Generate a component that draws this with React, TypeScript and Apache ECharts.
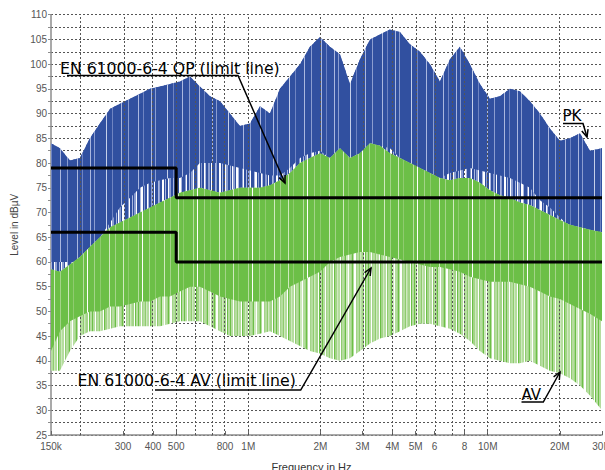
import React, { useEffect, useRef } from 'react';
import * as echarts from 'echarts';

// Frequencies (MHz) at which the traces' envelopes were read
const freqMHz = [0.15, 0.1635, 0.18, 0.198, 0.218, 0.24, 0.265, 0.291, 0.321, 0.353, 0.389, 0.428, 0.471, 0.518, 0.571, 0.628, 0.692, 0.762, 0.838, 0.923, 1.016, 1.119, 1.232, 1.356, 1.493, 1.644, 1.809, 1.992, 2.193, 2.415, 2.658, 2.927, 3.222, 3.547, 3.905, 4.299, 4.733, 5.21, 5.736, 6.315, 6.952, 7.653, 8.426, 9.274, 10.21, 11.24, 12.38, 13.62, 15.0, 16.51, 18.18, 20.02, 22.04, 24.27, 26.71, 30.0];

// PK trace (dBµV): upper envelope, bottom of solid body, bottom of light streaks
const pkTop = [84, 83, 80.5, 81, 85, 88, 91, 92, 93, 94, 95, 95.5, 96, 96.5, 97.5, 95.5, 93.5, 92.5, 90, 87.5, 88, 91.5, 90, 95, 97.5, 100, 103.5, 105.5, 103.5, 102, 96, 101, 105, 106, 107, 106.5, 104, 102.5, 100, 96.5, 101, 103.5, 100, 96, 93, 93.5, 95, 94.5, 92.5, 90, 87, 84.5, 85, 86, 82.5, 83];
const pkBody = [60, 60, 60, 60, 61, 65, 68, 71, 73, 75, 76, 76.5, 77, 77, 78, 80, 80, 80, 79.5, 79, 78.5, 78, 77.5, 77.5, 79, 81, 82, 82.5, 81, 80, 78.5, 80, 83, 83.5, 83, 81, 79, 78, 77, 77, 78, 78.5, 79, 78.5, 78, 77.5, 77, 76, 75, 72.5, 71, 69, 67, 66, 65, 64];
const pkFloor = [55, 55, 56, 57, 59, 63, 66, 67, 68, 69, 70, 71, 72, 73, 73.5, 74, 73.5, 73, 73.5, 74, 74, 74, 74.5, 75.5, 77, 79, 80, 81, 79, 78.5, 77, 79, 80, 80, 80, 79, 76, 76, 75, 74, 74, 75, 75, 74, 73, 72, 71, 70, 69, 68, 66, 64, 63, 62.5, 62, 62];

// AV trace (dBµV)
const avTop = [58.5, 58, 59.5, 61, 63, 65, 67, 68, 69, 70, 71, 72, 73, 74, 74.5, 75, 74.5, 74, 74.5, 75, 75, 75, 75.5, 76.5, 78, 80, 81, 82, 81, 83, 81, 82, 84, 83.5, 82, 81, 80, 79, 78, 77, 76.5, 77, 77, 76, 74.5, 73.5, 73, 72, 71.5, 70.5, 69.5, 68.5, 67.5, 67, 66.5, 66];
const avBody = [42, 46, 48, 49, 50, 50, 51, 51, 51.5, 52, 52, 53, 53, 54, 55, 55, 54, 53, 52.5, 52, 52, 52, 52, 53, 55, 56, 57, 58, 60, 61, 61.5, 62, 62, 61.5, 61, 60.5, 60, 59.5, 59, 59, 58.5, 58, 57, 56.5, 56, 56, 56, 55.5, 55, 54, 53, 52.5, 51.5, 50.5, 49.5, 48];
const avFloor = [38, 38, 42, 45, 46, 46, 46.5, 47, 47, 47, 47, 47, 47.5, 48, 48, 48, 47, 46, 45, 45, 45, 45.5, 46, 45, 44, 43, 42, 41.5, 40.5, 40, 40.5, 42, 43.5, 44.5, 45, 46, 47, 47.5, 47.5, 47, 46.5, 45.5, 44, 42, 40.5, 40, 39.5, 39.5, 40, 39, 38, 37.5, 36.5, 35, 33, 30];

// Limit lines
const limitFreqMHz = [0.15, 0.5, 0.5, 30];
const qpLimit = [79, 79, 73, 73];
const avLimit = [66, 66, 60, 60];

// Axis ticks
const xTickMHz = [0.15, 0.3, 0.4, 0.5, 0.8, 1, 2, 3, 4, 5, 6, 8, 10, 20, 30];
const xTickLabels = ['150k', '300', '400', '500', '800', '1M', '2M', '3M', '4M', '5M', '6', '8', '10M', '20M', '30M'];
const xGridMHz = [0.2, 0.3, 0.4, 0.5, 0.6, 0.7, 0.8, 1, 2, 3, 4, 5, 6, 7, 8, 10, 20];

const lg = Math.log10;
const FONT_UI = '"Liberation Sans", Arial, sans-serif';
const FONT_ANN = '"DejaVu Sans", sans-serif';

// Streak textures (column width, colour)
const B = '#3150a0';
const L1 = '#aab7df';
const L2 = '#8b9dd0';
const L3 = '#6f84c2';
const W = '#ffffff';
const G = '#6cbf47';
const P1 = '#b5dd9f';
const P2 = '#a3d488';
const P3 = '#cfe9bf';
const M = '#8fcb6f';
const texPkStreak: [number, string][] = [[2, B], [1, L1], [1, B], [1, W], [2, L2], [1, B], [2, W], [1, L1], [3, B], [1, L2], [1, W], [2, B], [1, L1], [1, B], [2, L2], [1, W], [3, B], [1, L1], [2, W], [1, B], [1, L2], [2, B], [1, W], [1, L1], [2, B], [2, L2], [1, B], [1, W], [3, B], [1, L1], [1, L2], [2, B], [2, W], [1, B], [1, L1], [2, B], [1, W], [2, L2]];
const texPkBody: [number, string][] = [[6, B], [1, L2], [9, B], [1, L1], [4, B], [1, L3], [7, B], [1, L1], [3, B], [1, L2], [11, B], [1, '#c5cfe9'], [5, B], [1, L3], [8, B], [1, L1]];
const texAvStreak: [number, string][] = [[1, G], [2, P1], [1, W], [1, P2], [2, P1], [1, M], [1, P3], [2, P1], [1, W], [1, G], [2, P2], [1, P3], [2, P1], [1, W], [1, M], [2, P1], [1, P2], [1, G], [2, P3], [1, W], [2, P1], [1, P2], [1, G], [1, P1], [2, W], [1, P2], [2, P1], [1, M], [1, P3], [1, P1], [2, P2], [1, W], [1, G], [2, P1]];
const texAvBody: [number, string][] = [[5, G], [1, P2], [7, G], [1, P3], [4, G], [1, M], [9, G], [1, P1], [3, G], [1, W], [6, G], [1, P2], [5, G], [1, M], [8, G], [1, P3]];

function makePattern(cols: [number, string][], fallback: string): any {
  try {
    const w = cols.reduce((s, c) => s + c[0], 0);
    const h = 4;
    const cv = document.createElement('canvas');
    cv.width = w;
    cv.height = h;
    const ctx = cv.getContext('2d');
    if (!ctx) return fallback;
    let x = 0;
    for (const [cw, col] of cols) {
      ctx.fillStyle = col;
      ctx.fillRect(x, 0, cw, h);
      x += cw;
    }
    return { image: cv.toDataURL(), repeat: 'repeat', imageWidth: w, imageHeight: h };
  } catch (e) {
    return fallback;
  }
}

function band(low: number[], high: number[], fill: any, z: number) {
  return {
    type: 'custom',
    z,
    silent: true,
    clip: true,
    data: freqMHz.map((f, i) => [lg(f), low[i], high[i]]),
    encode: { x: 0, y: [1, 2] },
    renderItem: (params: any, api: any) => {
      if (params.dataIndex !== 0) return null;
      const up = freqMHz.map((f, i) => api.coord([lg(f), high[i]]));
      const dn = freqMHz.map((f, i) => api.coord([lg(f), low[i]])).reverse();
      return { type: 'polygon', shape: { points: up.concat(dn) }, style: { fill } };
    },
  };
}

function arrowHead(from: number[], tip: number[], len = 8, ang = 0.42) {
  const dx = tip[0] - from[0];
  const dy = tip[1] - from[1];
  const L = Math.hypot(dx, dy);
  const ux = dx / L, uy = dy / L;
  const rot = (a: number) => [
    tip[0] - len * (ux * Math.cos(a) - uy * Math.sin(a)),
    tip[1] - len * (ux * Math.sin(a) + uy * Math.cos(a)),
  ];
  return [rot(ang), tip, rot(-ang)];
}

function annotation(text: string, tx: number, ty: number, fontSize: number, path: number[][]) {
  const n = path.length;
  return [
    { type: 'text', x: tx, y: ty, z: 100, style: { text, fontSize, fontFamily: FONT_ANN, fill: '#000', align: 'left', verticalAlign: 'middle' } },
    { type: 'polyline', z: 100, shape: { points: path }, style: { stroke: '#000', lineWidth: 1.5, fill: null } },
    { type: 'polyline', z: 100, shape: { points: arrowHead(path[n - 2], path[n - 1]) }, style: { stroke: '#000', lineWidth: 1.5, fill: null } },
  ];
}

export default function App() {
  const ref = useRef<HTMLDivElement>(null);
  useEffect(() => {
    document.body.style.margin = '0';
    const chart = echarts.init(ref.current!, null, { renderer: 'svg' });
    const tickVals = xTickMHz.map(lg);
    const option: any = {
      animation: false,
      backgroundColor: '#fff',
      grid: { left: 51, top: 14.7, width: 551, height: 420.3, containLabel: false, outerBoundsMode: 'none' },
      xAxis: {
        type: 'value',
        min: lg(0.15),
        max: lg(30),
        name: 'Frequency in Hz',
        nameLocation: 'middle',
        nameGap: 26,
        nameTextStyle: { fontSize: 11, color: '#333', fontFamily: FONT_UI, padding: [0, 30, 0, 0] },
        axisLine: { show: true, onZero: false, lineStyle: { color: '#8c8c8c', width: 1.5 } },
        axisTick: { show: true, inside: true, length: 4, customValues: tickVals, lineStyle: { color: '#666' } },
        axisLabel: {
          customValues: tickVals,
          showMinLabel: true,
          showMaxLabel: true,
          hideOverlap: false,
          color: '#555',
          fontSize: 10,
          fontFamily: FONT_UI,
          margin: 6,
          formatter: (v: number) => {
            const i = tickVals.findIndex((t) => Math.abs(t - v) < 1e-6);
            return i >= 0 ? xTickLabels[i] : '';
          },
        },
        splitLine: { show: false },
      },
      yAxis: {
        type: 'value',
        min: 25,
        max: 110,
        interval: 2.5,
        name: 'Level in dBµV',
        nameLocation: 'middle',
        nameGap: 25,
        nameTextStyle: { fontSize: 10, color: '#444', fontFamily: FONT_UI },
        axisLine: { show: true, onZero: false, lineStyle: { color: '#8c8c8c', width: 1.5 } },
        axisTick: { show: true, length: 3, lineStyle: { color: '#8c8c8c' } },
        axisLabel: {
          color: '#555',
          fontSize: 10,
          fontFamily: FONT_UI,
          margin: 4,
          formatter: (v: number) => (v % 5 === 0 ? String(v) : ''),
        },
        splitLine: { show: true, lineStyle: { color: '#555', width: 1, type: [2, 2] } },
      },
      series: [
        {
          type: 'line',
          z: 1,
          silent: true,
          symbol: 'none',
          lineStyle: { opacity: 0 },
          data: [[lg(0.15), 25]],
          markLine: {
            silent: true,
            symbol: ['none', 'none'],
            label: { show: false },
            lineStyle: { color: '#555', width: 1, type: [2, 2] },
            data: xGridMHz.map((f) => ({ xAxis: lg(f) })),
          },
        },
        band(pkFloor, pkTop, makePattern(texPkStreak, L2), 2),
        band(pkBody, pkTop, makePattern(texPkBody, B), 3),
        band(avFloor, avTop, makePattern(texAvStreak, P1), 4),
        band(avBody, avTop, makePattern(texAvBody, G), 5),
        {
          type: 'line',
          z: 8,
          silent: true,
          symbol: 'none',
          lineStyle: { color: '#000', width: 3 },
          data: limitFreqMHz.map((f, i) => [lg(f), qpLimit[i]]),
        },
        {
          type: 'line',
          z: 8,
          silent: true,
          symbol: 'none',
          lineStyle: { color: '#000', width: 3 },
          data: limitFreqMHz.map((f, i) => [lg(f), avLimit[i]]),
        },
      ],
      graphic: [
        ...annotation('EN 61000-6-4 QP (limit line)', 60, 68, 15.7, [[67, 75.5], [238, 75.5], [285, 183]]),
        ...annotation('EN 61000-6-4 AV (limit line)', 77.5, 380, 15.7, [[155, 390], [300.7, 390], [371, 268]]),
        ...annotation('PK', 562.5, 116, 15, [[563, 123.5], [583, 123.5], [587, 137]]),
        ...annotation('AV', 521.5, 395, 15, [[521.5, 402], [543.3, 402], [560, 372]]),
      ],
    };
    chart.setOption(option);
    return () => chart.dispose();
  }, []);
  return <div ref={ref} style={{ width: 605, height: 470 }} />;
}
